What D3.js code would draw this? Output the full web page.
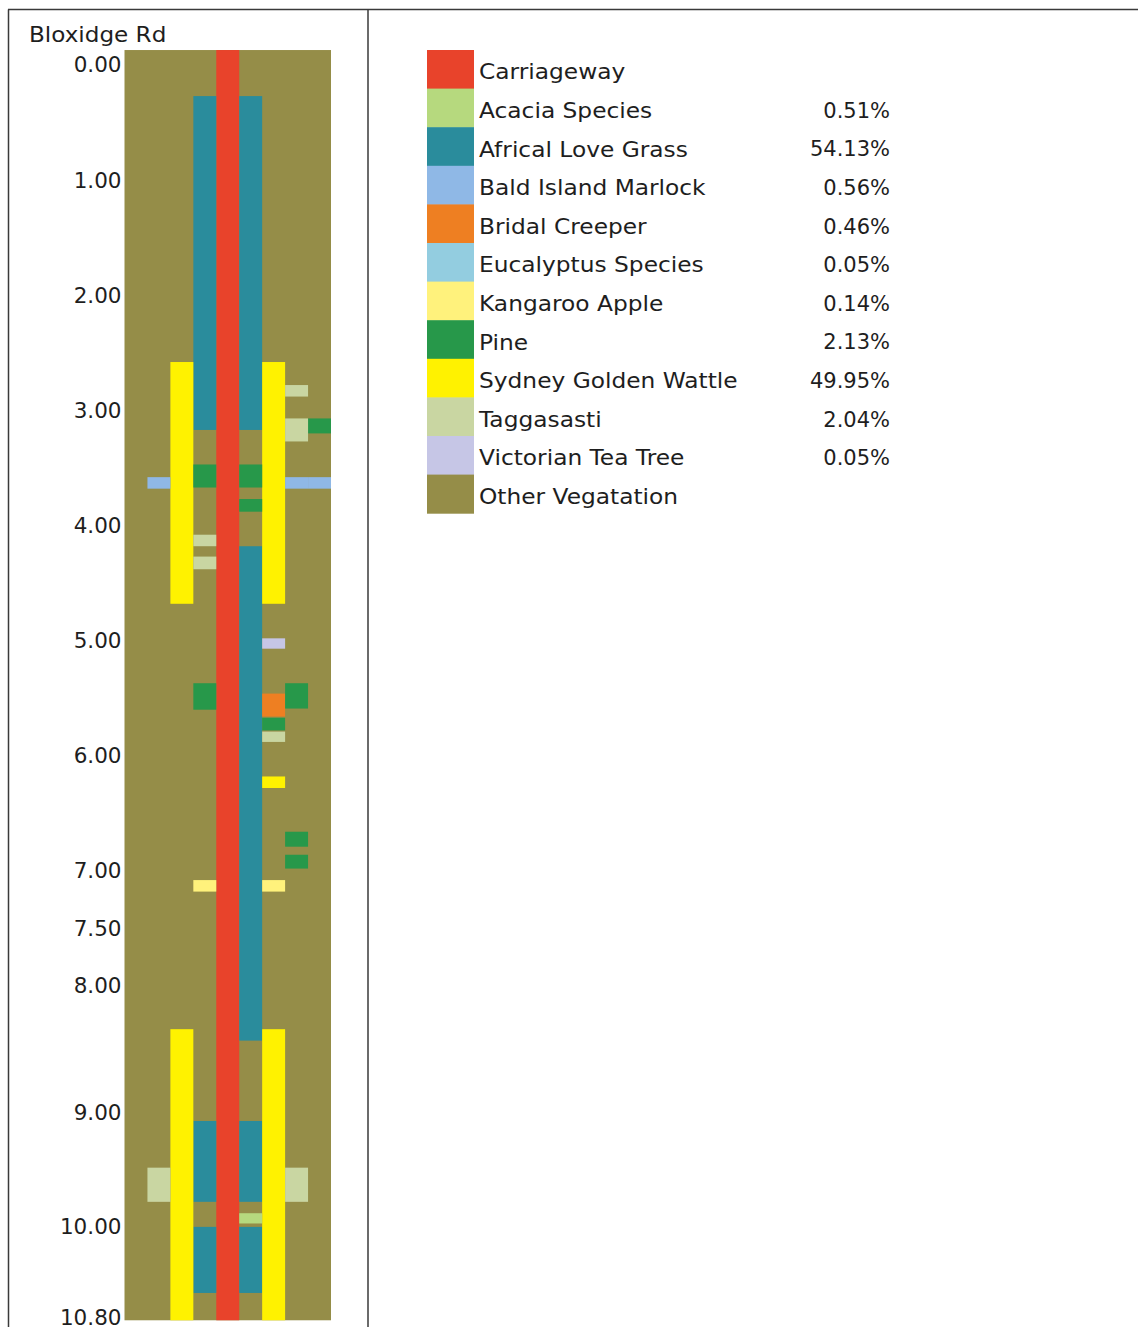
<!DOCTYPE html>
<html>
<head>
<meta charset="utf-8">
<script src="https://cdn.jsdelivr.net/npm/d3@7"></script>
<style>
  html, body { margin: 0; padding: 0; background: #fff; }
  svg { display: block; }
  text { font-family: "DejaVu Sans", "Open Sans", sans-serif; fill: #1e1e1e; }
</style>
</head>
<body>
<svg id="chart" width="1138" height="1327"></svg>
<script>
// ---------- DATA ----------
const roadName = "Bloxidge Rd";
const tickValues = [0, 1, 2, 3, 4, 5, 6, 7, 7.5, 8, 9, 10, 10.8];
const roadExtent = [-0.13, 10.82];          // chainage covered by the strip (km)
const lanes = ["L4", "L3", "L2", "L1", "C", "R1", "R2", "R3", "R4"];

const categories = ["Carriageway", "Acacia Species", "Africal Love Grass", "Bald Island Marlock",
  "Bridal Creeper", "Eucalyptus Species", "Kangaroo Apple", "Pine", "Sydney Golden Wattle",
  "Taggasasti", "Victorian Tea Tree", "Other Vegatation"];
const percentages = ["", "0.51%", "54.13%", "0.56%", "0.46%", "0.05%", "0.14%", "2.13%",
  "49.95%", "2.04%", "0.05%", ""];
const colors = ["#e8432b", "#b6d97e", "#2a8c9c", "#8fb8e6", "#ee7f22", "#93cde0", "#fff27c",
  "#27984a", "#fff200", "#c9d6a2", "#c6c6e6", "#958d48"];

// segments: [lane, from km, to km]
const carriageway = [["C", -0.13, 10.82]];
const acaciaSpecies = [["R1", 9.88, 9.97]];
const africanLoveGrass = [
  ["L1", 0.27, 3.17], ["R1", 0.27, 3.17], ["R1", 4.18, 8.43],
  ["L1", 9.07, 9.78], ["R1", 9.07, 9.78], ["L1", 10.00, 10.58], ["R1", 10.00, 10.58]];
const baldIslandMarlock = [["L3", 3.58, 3.68], ["R3", 3.58, 3.68], ["R4", 3.58, 3.68]];
const bridalCreeper = [["R2", 5.46, 5.66]];
const kangarooApple = [["L1", 7.08, 7.18], ["R2", 7.08, 7.18]];
const pine = [
  ["R4", 3.07, 3.20], ["L1", 3.47, 3.67], ["R1", 3.47, 3.67], ["R1", 3.77, 3.88],
  ["L1", 5.37, 5.60], ["R3", 5.37, 5.59], ["R2", 5.67, 5.78],
  ["R3", 6.66, 6.79], ["R3", 6.86, 6.98]];
const sydneyGoldenWattle = [
  ["L2", 2.58, 4.68], ["R2", 2.58, 4.68], ["R2", 6.18, 6.28],
  ["L2", 8.34, 10.82], ["R2", 8.34, 10.82]];
const taggasasti = [
  ["R3", 2.78, 2.88], ["R3", 3.07, 3.27], ["L1", 4.08, 4.18], ["L1", 4.27, 4.38],
  ["R2", 5.79, 5.88], ["L3", 9.48, 9.78], ["R3", 9.48, 9.78]];
const victorianTeaTree = [["R2", 4.98, 5.07]];

const layers = [
  ["Carriageway", carriageway], ["Africal Love Grass", africanLoveGrass],
  ["Sydney Golden Wattle", sydneyGoldenWattle], ["Acacia Species", acaciaSpecies],
  ["Bald Island Marlock", baldIslandMarlock], ["Bridal Creeper", bridalCreeper],
  ["Kangaroo Apple", kangarooApple], ["Pine", pine], ["Taggasasti", taggasasti],
  ["Victorian Tea Tree", victorianTeaTree]];

// ---------- LAYOUT ----------
const svg = d3.select("#chart");
const color = d3.scaleOrdinal().domain(categories).range(colors);

const x = d3.scaleBand().domain(lanes).range([124.5, 331]).padding(0);
// chainage axis of the original sheet is slightly uneven between 8 and 9 km
const y = d3.scaleLinear().domain([0, 8, 9, 10.8]).range([65, 986, 1113, 1318]);

// frame lines
const frame = svg.append("g").attr("stroke", "#3a3a3a").attr("stroke-width", 1.5);
frame.append("line").attr("x1", 8).attr("x2", 1138).attr("y1", 9.5).attr("y2", 9.5);
frame.append("line").attr("x1", 8.5).attr("x2", 8.5).attr("y1", 9.5).attr("y2", 1327);
frame.append("line").attr("x1", 368).attr("x2", 368).attr("y1", 9.5).attr("y2", 1327);

// title (the sheet's font is wider than the available ones)
svg.append("text").attr("transform", "translate(29,42) scale(1.1,1)")
  .attr("font-size", 21).text(roadName);

// background: other vegetation
svg.append("rect")
  .attr("x", x.range()[0]).attr("width", x.range()[1] - x.range()[0])
  .attr("y", y(roadExtent[0])).attr("height", y(roadExtent[1]) - y(roadExtent[0]))
  .attr("fill", color("Other Vegatation"));

// segments
const plot = svg.append("g");
layers.forEach(([name, segs]) => {
  plot.append("g").selectAll("rect").data(segs).join("rect")
    .attr("x", d => x(d[0]))
    .attr("width", x.bandwidth())
    .attr("y", d => y(d[1]))
    .attr("height", d => y(d[2]) - y(d[1]))
    .attr("fill", color(name));
});

// axis
const axis = svg.append("g").attr("transform", `translate(${x.range()[0]},0)`)
  .call(d3.axisLeft(y).tickValues(tickValues).tickFormat(d3.format(".2f")).tickSize(0).tickPadding(3));
axis.select(".domain").remove();
axis.selectAll("text").attr("font-size", 21.5).attr("font-family", "DejaVu Sans, sans-serif")
  .attr("fill", "#1e1e1e");

// legend
const lg = svg.append("g").attr("transform", "translate(427,50)");
const rowH = 38.6;
const rows = lg.selectAll("g").data(categories).join("g")
  .attr("transform", (d, i) => `translate(0,${i * rowH})`);
rows.append("rect").attr("width", 47).attr("height", rowH + 0.5).attr("fill", d => color(d));
rows.append("text").attr("transform", `translate(52,${rowH / 2 + 10}) scale(1.11,1)`)
  .attr("font-size", 21).text(d => d);
rows.append("text").attr("x", 463).attr("y", rowH / 2 + 10).attr("font-size", 21)
  .attr("text-anchor", "end").text((d, i) => percentages[i]);
</script>
</body>
</html>
